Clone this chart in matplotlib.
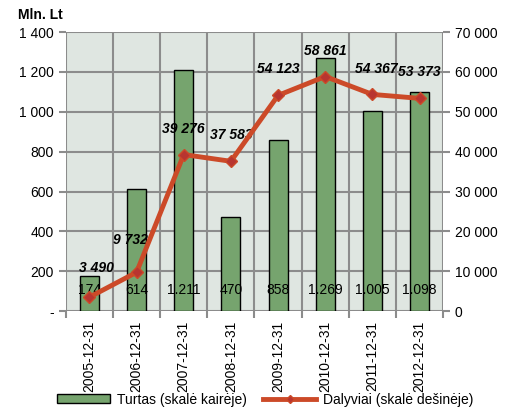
import matplotlib
matplotlib.use('Agg')
import matplotlib.pyplot as plt
import numpy as np
from matplotlib.patches import Patch
from matplotlib.lines import Line2D

plt.rcParams['font.family'] = ['Liberation Sans Narrow', 'Liberation Sans', 'DejaVu Sans']

# data
dates = ['2005-12-31', '2006-12-31', '2007-12-31', '2008-12-31',
         '2009-12-31', '2010-12-31', '2011-12-31', '2012-12-31']
turtas = [174, 614, 1211, 470, 858, 1269, 1005, 1098]
turtas_labels = ['174', '614', '1.211', '470', '858', '1.269', '1.005', '1.098']
dalyviai = [3490, 9732, 39276, 37583, 54123, 58861, 54367, 53373]
dalyviai_labels = ['3 490', '9 732', '39 276', '37 583', '54 123', '58 861', '54 367', '53 373']
left_ticks = [0, 200, 400, 600, 800, 1000, 1200, 1400]
left_labels = ['-', '200', '400', '600', '800', '1 000', '1 200', '1 400']
right_ticks = [0, 10000, 20000, 30000, 40000, 50000, 60000, 70000]
right_labels = ['0', '10 000', '20 000', '30 000', '40 000', '50 000', '60 000', '70 000']

bar_color = '#76a46e'
line_color = '#cc4a28'
marker_color = '#b83530'
grid_color = '#8c8c8c'
fs = 10

fig = plt.figure(figsize=(5.1, 4.17), dpi=100)
ax = fig.add_axes([0.129, 0.254, 0.740, 0.669])
ax.set_facecolor('#dfe6e1')

x = np.arange(len(dates))
ax.bar(x, turtas, width=0.4, color=bar_color, edgecolor='black', linewidth=1, zorder=3)
for xi, lab in zip(x, turtas_labels):
    ax.text(xi, 105, lab, ha='center', va='center', fontsize=fs, zorder=6)

ax.set_xlim(-0.5, len(dates) - 0.5)
ax.set_ylim(0, 1400)
ax.set_yticks(left_ticks)
ax.set_yticklabels(left_labels, fontsize=fs)
ax.set_xticks(np.arange(-0.5, len(dates), 1.0))
ax.set_xticklabels([])
ax.set_xticks(x, minor=True)
ax.set_xticklabels(dates, minor=True, rotation=90, fontsize=fs)
ax.tick_params(axis='x', which='minor', length=0, pad=7)
ax.tick_params(axis='x', which='major', length=5, width=1.5, color=grid_color)
ax.tick_params(axis='y', length=5, width=1.5, color=grid_color)
ax.grid(True, which='major', color=grid_color, linewidth=1.5, zorder=0)
ax.set_axisbelow(True)
for s in ax.spines.values():
    s.set_visible(False)

ax2 = ax.twinx()
ax2.plot(x, dalyviai, color=line_color, linewidth=3.5, marker='D', markersize=6,
         markerfacecolor=marker_color, markeredgecolor=line_color, zorder=5)
ax2.set_ylim(0, 70000)
ax2.set_yticks(right_ticks)
ax2.set_yticklabels(right_labels, fontsize=fs)
ax2.tick_params(axis='y', length=5, width=1.5, color=grid_color)
for s in ax2.spines.values():
    s.set_visible(False)
label_dx = [0.15, -0.12, 0, 0, 0, 0, 0.08, 0]
label_dy = [7300, 8000, 6500, 6500, 6500, 6500, 6500, 6500]
for xi, v, lab, dx, dy in zip(x, dalyviai, dalyviai_labels, label_dx, label_dy):
    ax2.text(xi + dx, v + dy, lab, ha='center', va='center', fontsize=fs,
             fontweight='bold', fontstyle='italic')

fig.text(0.035, 0.965, 'Mln. Lt', fontsize=fs, fontweight='bold', va='center')

handles = [Patch(facecolor=bar_color, edgecolor='black', label='Turtas (skalė kairėje)'),
           Line2D([0], [0], color=line_color, linewidth=3.5, marker='D', markersize=4,
                  markerfacecolor=marker_color, label='Dalyviai (skalė dešinėje)')]
fig.legend(handles=handles, loc='lower center', bbox_to_anchor=(0.52, -0.005), ncol=2,
           frameon=False, fontsize=fs, handlelength=3.8, handleheight=0.6,
           columnspacing=1.2, handletextpad=0.5)

fig.savefig('out.png', dpi=100)
